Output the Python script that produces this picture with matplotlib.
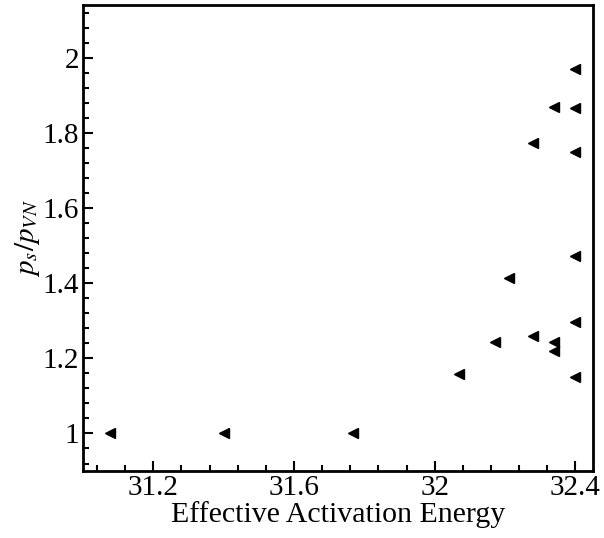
import numpy as np
import matplotlib
matplotlib.use('Agg')
import matplotlib.pyplot as plt

plt.rcParams['font.family'] = 'Liberation Serif'
plt.rcParams['mathtext.fontset'] = 'stix'

# effective activation energy vs pressure ratio
energy = [31.078, 31.40, 31.767, 32.07, 32.17, 32.21, 32.278, 32.28,
          32.34, 32.34, 32.34, 32.40, 32.40, 32.40, 32.40, 32.40, 32.40]
ratio = [1.0, 1.0, 1.0, 1.157, 1.242, 1.413, 1.259, 1.773,
         1.869, 1.243, 1.220, 1.970, 1.866, 1.749, 1.473, 1.297, 1.150]

fig = plt.figure(figsize=(6.04, 5.38), dpi=100)
ax = fig.add_axes([0.1374, 0.1245, 0.8444, 0.8662])
ax.plot(energy, ratio, linestyle='none', marker='<', markersize=7,
        color='black')

ax.set_xlim(31.0, 32.45)
ax.set_ylim(0.9, 2.14)
ax.set_xticks([31.2, 31.6, 32.0, 32.4])
ax.set_xticklabels(['31.2', '31.6', '32', '32.4'])
ax.set_xticks(np.arange(31.04, 32.45, 0.08), minor=True)
ax.set_yticks([1.0, 1.2, 1.4, 1.6, 1.8, 2.0])
ax.set_yticklabels(['1', '1.2', '1.4', '1.6', '1.8', '2'])
ax.set_yticks(np.arange(0.92, 2.14, 0.04), minor=True)

ax.tick_params(which='both', direction='in', top=False, right=False,
               labelsize=21, width=1.5)
ax.tick_params(which='major', length=7, pad=3)
ax.tick_params(which='minor', length=4)
for s in ax.spines.values():
    s.set_linewidth(2)

ax.set_xlabel('Effective Activation Energy', fontsize=21.5, labelpad=0)
ax.set_ylabel(r'$p_s/p_{VN}$', fontsize=21, labelpad=0)

fig.savefig('out.png', dpi=100)
